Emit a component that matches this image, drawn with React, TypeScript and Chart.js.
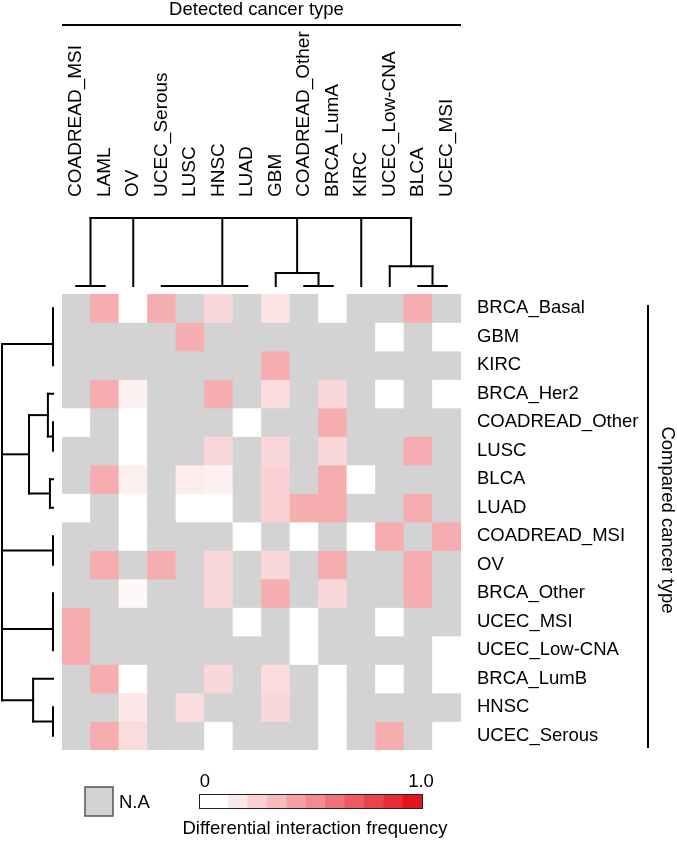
import React, { useEffect, useRef } from "react";
import { Chart, registerables } from "chart.js";

Chart.register(...registerables);

const FONT = '"Liberation Sans", Arial, Helvetica, sans-serif';

// Columns (detected cancer type), left to right
const detectedTypes = [
  "COADREAD_MSI", "LAML", "OV", "UCEC_Serous", "LUSC", "HNSC", "LUAD",
  "GBM", "COADREAD_Other", "BRCA_LumA", "KIRC", "UCEC_Low-CNA", "BLCA", "UCEC_MSI",
];

// Rows (compared cancer type), top to bottom
const comparedTypes = [
  "BRCA_Basal", "GBM", "KIRC", "BRCA_Her2", "COADREAD_Other", "LUSC", "BLCA", "LUAD",
  "COADREAD_MSI", "OV", "BRCA_Other", "UCEC_MSI", "UCEC_Low-CNA", "BRCA_LumB", "HNSC", "UCEC_Serous",
];

// Differential interaction frequency (null = N.A), columns in detectedTypes order
const N = null;
const rowBRCA_Basal = [N, 0.35, 0, 0.35, N, 0.17, N, 0.12, N, 0, N, N, 0.35, N];
const rowGBM = [N, N, N, N, 0.35, N, N, N, N, N, N, 0, N, 0];
const rowKIRC = [N, N, N, N, N, N, N, 0.35, N, N, N, N, N, N];
const rowBRCA_Her2 = [N, 0.35, 0.06, N, N, 0.35, N, 0.15, N, 0.17, N, 0, N, 0];
const rowCOADREAD_Other = [0, N, 0, N, N, N, 0, N, N, 0.35, N, N, N, N];
const rowLUSC = [N, N, 0, N, N, 0.17, N, 0.17, N, 0.17, N, N, 0.35, N];
const rowBLCA = [N, 0.35, 0.07, N, 0.08, 0.06, N, 0.2, N, 0.35, 0, N, N, N];
const rowLUAD = [0, N, 0, N, 0, 0, N, 0.2, 0.35, 0.35, N, N, 0.35, N];
const rowCOADREAD_MSI = [N, N, 0, N, N, N, 0, N, 0, N, 0, 0.35, N, 0.35];
const rowOV = [N, 0.35, N, 0.35, N, 0.17, N, 0.17, N, 0.35, N, N, 0.35, N];
const rowBRCA_Other = [N, N, 0.03, N, N, 0.17, N, 0.35, N, 0.17, N, N, 0.35, N];
const rowUCEC_MSI = [0.35, N, N, N, N, N, 0, N, 0, N, N, 0, N, N];
const rowUCEC_LowCNA = [0.35, N, N, N, N, N, N, N, 0, N, N, N, N, 0];
const rowBRCA_LumB = [N, 0.35, 0, N, N, 0.17, N, 0.15, N, 0, N, 0, N, 0];
const rowHNSC = [N, N, 0.1, N, 0.15, N, N, 0.17, N, 0, N, N, N, N];
const rowUCEC_Serous = [N, 0.35, 0.15, N, N, 0, N, N, N, 0, N, 0.35, N, 0];

const rows = [
  rowBRCA_Basal, rowGBM, rowKIRC, rowBRCA_Her2, rowCOADREAD_Other, rowLUSC, rowBLCA, rowLUAD,
  rowCOADREAD_MSI, rowOV, rowBRCA_Other, rowUCEC_MSI, rowUCEC_LowCNA, rowBRCA_LumB, rowHNSC, rowUCEC_Serous,
];

// Dendrograms: leaves are indices, h = merge height (fraction of root height)
type Tree = number | { h: number; c: Tree[] };
const colTree: Tree = {
  h: 1,
  c: [
    { h: 0, c: [0, 1] },
    2,
    { h: 0, c: [{ h: 0, c: [{ h: 0, c: [3, 4] }, 5] }, 6] },
    { h: 0.19, c: [7, { h: 0, c: [8, 9] }] },
    10,
    { h: 0.29, c: [11, { h: 0, c: [12, 13] }] },
  ],
};
const rowTree: Tree = {
  h: 1,
  c: [
    { h: 0, c: [{ h: 0, c: [0, 1] }, 2] },
    { h: 0.47, c: [{ h: 0.1, c: [3, { h: 0, c: [4, 5] }] }, { h: 0.06, c: [6, 7] }] },
    { h: 0, c: [8, 9] },
    { h: 0, c: [{ h: 0, c: [10, 11] }, 12] },
    { h: 0.39, c: [13, { h: 0, c: [14, 15] }] },
  ],
};

// Colour scale legend steps
const legendSteps = [0, 0.1, 0.2, 0.3, 0.4, 0.5, 0.6, 0.7, 0.8, 0.9, 1.0];

const NA_COLOR = "#d3d3d3";
const LOW = [255, 255, 255];
const HIGH = [228, 20, 30];

function valueColor(v: number | null): string {
  if (v === null) return NA_COLOR;
  const c = LOW.map((l, i) => Math.round(l + (HIGH[i] - l) * v));
  return `rgb(${c[0]},${c[1]},${c[2]})`;
}

function drawTree(
  ctx: CanvasRenderingContext2D,
  node: Tree,
  leafPos: (i: number) => number,
  hPos: (h: number) => number,
  horizontalLeaves: boolean
): number {
  if (typeof node === "number") return leafPos(node);
  const kids = node.c.map((k) => ({
    p: drawTree(ctx, k, leafPos, hPos, horizontalLeaves),
    h: typeof k === "number" ? 0 : k.h,
  }));
  const hp = hPos(node.h);
  const seg = (p1: number, h1: number, p2: number, h2: number) => {
    ctx.beginPath();
    if (horizontalLeaves) {
      ctx.moveTo(p1, h1);
      ctx.lineTo(p2, h2);
    } else {
      ctx.moveTo(h1, p1);
      ctx.lineTo(h2, p2);
    }
    ctx.stroke();
  };
  kids.forEach((k) => {
    const kh = hPos(k.h);
    if (Math.abs(kh - hp) > 0.1) seg(k.p, kh, k.p, hp);
  });
  const ps = kids.map((k) => k.p);
  seg(Math.min(...ps), hp, Math.max(...ps), hp);
  return (kids[0].p + kids[kids.length - 1].p) / 2;
}

const decorPlugin = {
  id: "decor",
  afterDraw(chart: any) {
    const ctx: CanvasRenderingContext2D = chart.ctx;
    const a = chart.chartArea;
    const xs = chart.scales.x;
    const ys = chart.scales.yLabels;
    ctx.save();
    ctx.strokeStyle = "#000";
    ctx.fillStyle = "#000";
    ctx.lineWidth = 2;
    ctx.lineCap = "square";

    // column dendrogram
    const leafY = a.top - 8;
    const rootY = a.top - 76;
    drawTree(ctx, colTree, (i) => xs.getPixelForValue(i), (h) => leafY - h * (leafY - rootY), true);

    // row dendrogram
    const leafX = a.left - 9;
    const rootX = a.left - 60;
    drawTree(ctx, rowTree, (i) => ys.getPixelForValue(i), (h) => leafX - h * (leafX - rootX), false);

    ctx.lineCap = "butt";
    // top title + line
    ctx.font = `18.5px ${FONT}`;
    ctx.textAlign = "center";
    ctx.textBaseline = "alphabetic";
    ctx.fillText("Detected cancer type", (a.left + a.right) / 2 - 5, 15);
    ctx.beginPath();
    ctx.moveTo(a.left, 25);
    ctx.lineTo(a.right, 25);
    ctx.stroke();

    // right title + line
    ctx.beginPath();
    ctx.moveTo(648, a.top + 11);
    ctx.lineTo(648, a.bottom - 2);
    ctx.stroke();
    ctx.save();
    ctx.translate(667, 520);
    ctx.rotate(Math.PI / 2);
    ctx.textBaseline = "middle";
    ctx.fillText("Compared cancer type", 0, 0);
    ctx.restore();

    // N.A legend
    ctx.fillStyle = NA_COLOR;
    ctx.fillRect(85, 787, 28, 29);
    ctx.strokeStyle = "#555";
    ctx.lineWidth = 1.5;
    ctx.strokeRect(85, 787, 28, 29);
    ctx.fillStyle = "#000";
    ctx.textAlign = "left";
    ctx.textBaseline = "middle";
    ctx.fillText("N.A", 119, 803);

    // colour bar
    const bx0 = 199, bx1 = 422, by0 = 794, by1 = 808;
    const unit = (bx1 - bx0) / (legendSteps.length + 0.5);
    let x = bx0;
    legendSteps.forEach((v, i) => {
      const w = i === 0 ? unit * 1.5 : unit;
      ctx.fillStyle = valueColor(v);
      ctx.fillRect(x, by0, w + 0.5, by1 - by0);
      x += w;
    });
    ctx.strokeStyle = "#222";
    ctx.lineWidth = 1;
    ctx.strokeRect(bx0 + 0.5, by0 + 0.5, bx1 - bx0, by1 - by0);
    ctx.fillStyle = "#000";
    ctx.textAlign = "center";
    ctx.fillText(String(legendSteps[0]), 205, 782);
    ctx.fillText(legendSteps[legendSteps.length - 1].toFixed(1), 421, 782);
    ctx.fillText("Differential interaction frequency", 315, 829);

    ctx.restore();
  },
};

export default function App() {
  const canvasRef = useRef<HTMLCanvasElement | null>(null);

  useEffect(() => {
    const canvas = canvasRef.current;
    if (!canvas) return;
    Chart.defaults.font.family = FONT;
    Chart.defaults.color = "#000";

    const datasets = rows.map((vals, r) => ({
      label: comparedTypes[r],
      data: vals.map(() => 1),
      backgroundColor: vals.map((v) => valueColor(v)),
      borderWidth: 0,
      barPercentage: 1,
      categoryPercentage: 1,
      stack: "cells",
    }));

    const chart = new Chart(canvas, {
      type: "bar",
      data: { labels: detectedTypes, datasets },
      options: {
        responsive: false,
        animation: false,
        events: [],
        layout: { padding: { left: 62, right: 0, top: 0, bottom: 94 } },
        plugins: { legend: { display: false }, tooltip: { enabled: false } },
        scales: {
          x: {
            type: "category",
            position: "top",
            stacked: true,
            offset: true,
            grid: { display: false, drawTicks: false },
            border: { display: false },
            ticks: {
              autoSkip: false,
              minRotation: 90,
              maxRotation: 90,
              padding: 97,
              labelOffset: 22.8,
              color: "#000",
              font: { size: 19, family: FONT },
            },
            afterFit: (s: any) => {
              s.height = 294;
              s.paddingLeft = 0;
              s.paddingRight = 0;
            },
          },
          y: {
            type: "linear",
            stacked: true,
            min: 0,
            max: comparedTypes.length,
            reverse: true,
            display: false,
          },
          yLabels: {
            type: "category",
            labels: comparedTypes,
            position: "right",
            offset: true,
            grid: { display: false, drawTicks: false },
            border: { display: false },
            ticks: {
              autoSkip: false,
              padding: 16,
              color: "#000",
              font: { size: 18.5, family: FONT },
            },
            afterFit: (s: any) => {
              s.width = 216;
              s.paddingTop = 0;
              s.paddingBottom = 0;
            },
          },
        },
      } as any,
      plugins: [decorPlugin],
    });
    return () => chart.destroy();
  }, []);

  return (
    <div style={{ position: "absolute", left: 0, top: 0, width: 677, height: 844, background: "#fff" }}>
      <canvas ref={canvasRef} width={677} height={844} />
    </div>
  );
}
